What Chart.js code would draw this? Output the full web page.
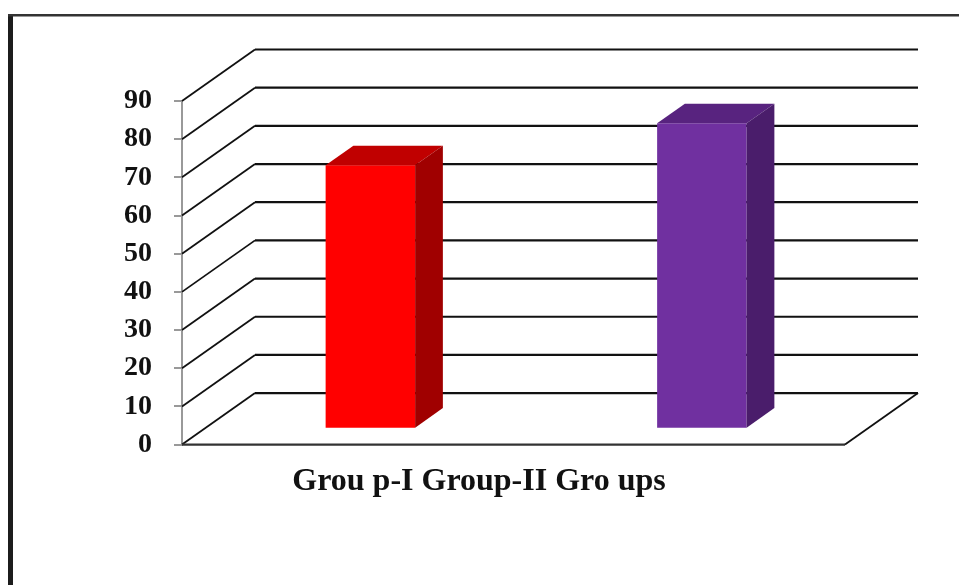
<!DOCTYPE html>
<html>
<head>
<meta charset="utf-8">
<style>
  html, body { margin: 0; padding: 0; background: #ffffff; }
  #wrap { width: 959px; height: 585px; position: relative; }
  canvas { display: block; }
</style>
<script src="https://cdn.jsdelivr.net/npm/chart.js@4.4.1/dist/chart.umd.min.js"></script>
</head>
<body>
<div id="wrap"><canvas id="chart" width="959" height="585"></canvas></div>
<script>
// ---- data ----
const categories = ['Group-I', 'Group-II'];
const values = [69, 80];
const yTickValues = [0, 10, 20, 30, 40, 50, 60, 70, 80, 90];
const axisTitle = 'Grou p-I Group-II Gro ups';

// ---- colours for the three visible faces of each column ----
const frontColors = ['#FF0000', '#7030A0'];
const topColors = ['#C00000', '#58237F'];
const sideColors = ['#A00000', '#4A1D6B'];

// depth of the box (floor/back wall) and of each column
const WALL_DX = 73, WALL_DY = -51.5;
const COL_POS = 0.31;          // where the column's front face sits within the depth
const COL_DEPTH = 0.38;        // how deep the column is, as a share of the depth

const serif = '"Liberation Serif", "Times New Roman", Times, serif';

const framePlugin = {
  id: 'frame',
  beforeDraw(chart) {
    const ctx = chart.ctx;
    ctx.save();
    ctx.fillStyle = '#ffffff';
    ctx.fillRect(0, 0, chart.width, chart.height);
    ctx.fillStyle = '#1c1c1c';
    ctx.fillRect(8, 14, 5, chart.height - 14);
    ctx.fillStyle = '#333333';
    ctx.fillRect(8, 14, chart.width - 8, 2.5);
    ctx.restore();
  }
};

const box3dPlugin = {
  id: 'box3d',
  beforeDatasetsDraw(chart) {
    const ctx = chart.ctx;
    const { left, right } = chart.chartArea;
    const ys = chart.scales.y;
    ctx.save();
    ctx.strokeStyle = '#111111';
    ctx.lineCap = 'butt';
    yTickValues.forEach(v => {
      const fy = ys.getPixelForValue(v);
      // back wall line
      ctx.lineWidth = 2.2;
      ctx.beginPath();
      ctx.moveTo(left + WALL_DX, fy + WALL_DY);
      ctx.lineTo(right + WALL_DX, fy + WALL_DY);
      ctx.stroke();
      // side wall line
      ctx.lineWidth = 1.8;
      ctx.beginPath();
      ctx.moveTo(left, fy);
      ctx.lineTo(left + WALL_DX, fy + WALL_DY);
      ctx.stroke();
    });
    // floor front edge and right edge
    const f0 = ys.getPixelForValue(0);
    ctx.strokeStyle = '#333333';
    ctx.lineWidth = 2.2;
    ctx.beginPath();
    ctx.moveTo(left, f0);
    ctx.lineTo(right, f0);
    ctx.stroke();
    ctx.strokeStyle = '#111111';
    ctx.lineWidth = 1.8;
    ctx.beginPath();
    ctx.moveTo(right, f0);
    ctx.lineTo(right + WALL_DX, f0 + WALL_DY);
    ctx.stroke();
    ctx.restore();

    // columns stand part way into the box
    ctx.save();
    ctx.translate(WALL_DX * COL_POS, WALL_DY * COL_POS);
  },
  afterDatasetsDraw(chart) {
    const ctx = chart.ctx;
    const meta = chart.getDatasetMeta(0);
    const ddx = WALL_DX * COL_DEPTH, ddy = WALL_DY * COL_DEPTH;
    meta.data.forEach((bar, i) => {
      const { x, y, base, width } = bar.getProps(['x', 'y', 'base', 'width'], true);
      const l = x - width / 2, r = x + width / 2;
      // top face
      ctx.fillStyle = topColors[i];
      ctx.beginPath();
      ctx.moveTo(l, y);
      ctx.lineTo(r, y);
      ctx.lineTo(r + ddx, y + ddy);
      ctx.lineTo(l + ddx, y + ddy);
      ctx.closePath();
      ctx.fill();
      // right side face
      ctx.fillStyle = sideColors[i];
      ctx.beginPath();
      ctx.moveTo(r, y);
      ctx.lineTo(r + ddx, y + ddy);
      ctx.lineTo(r + ddx, base + ddy);
      ctx.lineTo(r, base);
      ctx.closePath();
      ctx.fill();
    });
    ctx.restore();
  }
};

new Chart(document.getElementById('chart'), {
  type: 'bar',
  data: {
    labels: categories,
    datasets: [{
      data: values,
      backgroundColor: frontColors,
      borderWidth: 0,
      barPercentage: 0.27,
      categoryPercentage: 1,
      clip: false
    }]
  },
  options: {
    responsive: false,
    animation: false,
    devicePixelRatio: 1,
    layout: { padding: { left: 113, right: 114, top: 101, bottom: 82 } },
    plugins: {
      legend: { display: false },
      tooltip: { enabled: false },
      title: {
        display: true,
        position: 'bottom',
        text: axisTitle,
        color: '#111111',
        font: { family: serif, size: 32, weight: 'bold' },
        padding: { top: 18, bottom: 2 }
      }
    },
    scales: {
      x: { display: false },
      y: {
        min: 0,
        max: 90,
        afterBuildTicks: s => { s.ticks = yTickValues.map(v => ({ value: v })); },
        afterFit: s => { s.width = 69; },
        ticks: {
          color: '#111111',
          padding: 22,
          font: { family: serif, size: 28, weight: 'bold' }
        },
        grid: { drawOnChartArea: false, drawTicks: true, tickLength: 8, color: '#999999', lineWidth: 2 },
        border: { display: true, color: '#999999', width: 2 }
      }
    }
  },
  plugins: [framePlugin, box3dPlugin]
});
</script>
</body>
</html>
